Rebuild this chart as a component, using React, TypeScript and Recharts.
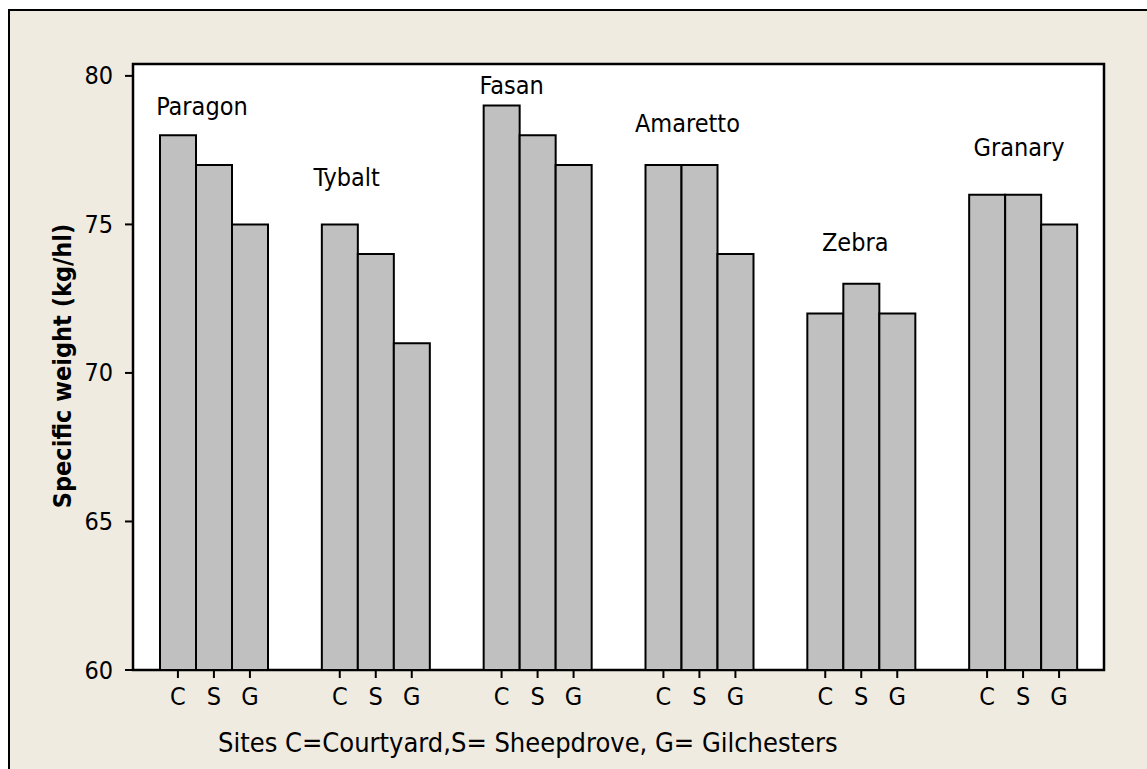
import React from 'react';
import { BarChart, Bar, XAxis, YAxis, CartesianGrid, ReferenceArea, ReferenceDot } from 'recharts';

// wheat varieties, one group each
const varieties = ['Paragon', 'Tybalt', 'Fasan', 'Amaretto', 'Zebra', 'Granary'];
// specific weight (kg/hl) per site
const courtyard = [78, 75, 79, 77, 72, 76];
const sheepdrove = [77, 74, 78, 77, 73, 76];
const gilchesters = [75, 71, 77, 74, 72, 75];
// height (kg/hl) at which each variety name sits
const nameLevels = [78.7, 76.3, 79.4, 78.1, 74.1, 77.3];
const siteLetters = ['C', 'S', 'G'];
const yTicks = [60, 65, 70, 75, 80];

const data = varieties.map((name, i) => ({
  name,
  C: courtyard[i],
  S: sheepdrove[i],
  G: gilchesters[i],
  level: nameLevels[i],
}));

// horizontal nudge of each variety name from its group centre (px)
const nameNudge = [-12, -29, -26, -12, -6, -4];

const FONT = '"DejaVu Sans Condensed", "DejaVu Sans", sans-serif';
const BAR_W = 36;

const SiteTick = (props: any) => {
  const { x, y } = props;
  return (
    <g>
      {siteLetters.map((s, k) => {
        const cx = x + (k - 1) * BAR_W;
        return (
          <g key={s}>
            <line x1={cx} x2={cx} y1={y - 8} y2={y} stroke="#000" strokeWidth={2} />
            <text x={cx} y={y + 27} textAnchor="middle" fontSize={25} fontFamily={FONT} fill="#000">
              {s}
            </text>
          </g>
        );
      })}
    </g>
  );
};

const WeightTick = (props: any) => {
  const { x, y, payload } = props;
  return (
    <text
      x={x}
      y={y}
      textAnchor="end"
      dominantBaseline="central"
      fontSize={25}
      fontFamily={FONT}
      fill="#000"
    >
      {payload.value}
    </text>
  );
};

const App: React.FC = () => {
  return (
    <div
      style={{
        position: 'absolute',
        left: 8,
        top: 9,
        width: 1139,
        height: 760,
        boxSizing: 'border-box',
        background: '#EFEBE1',
        borderLeft: '2px solid #000',
        borderTop: '2px solid #000',
      }}
    >
      <BarChart
        width={1137}
        height={758}
        data={data}
        margin={{ top: 53, right: 43, left: 0, bottom: 39 }}
        barGap={0}
        barSize={BAR_W}
      >
        <CartesianGrid horizontal={false} vertical={false} fill="#fff" />
        <XAxis
          dataKey="name"
          axisLine={false}
          tickLine={false}
          tickSize={8}
          tickMargin={0}
          height={60}
          interval={0}
          tick={<SiteTick />}
        />
        <YAxis
          domain={[60, 80.4]}
          ticks={yTicks}
          width={123}
          axisLine={false}
          tickSize={8}
          tickMargin={12}
          tickLine={{ stroke: '#000', strokeWidth: 2 }}
          tick={<WeightTick />}
        />
        <Bar dataKey="C" fill="#C0C0C0" stroke="#000" strokeWidth={2} isAnimationActive={false} />
        <Bar dataKey="S" fill="#C0C0C0" stroke="#000" strokeWidth={2} isAnimationActive={false} />
        <Bar dataKey="G" fill="#C0C0C0" stroke="#000" strokeWidth={2} isAnimationActive={false} />
        <ReferenceArea y1={60} y2={80.4} fill="none" stroke="#000" strokeWidth={2.5} ifOverflow="visible" />
        {data.map((d, i) => (
          <ReferenceDot
            key={d.name}
            x={d.name}
            y={d.level}
            r={0}
            ifOverflow="visible"
            shape={(p: any) => (
              <text
                x={p.cx + nameNudge[i]}
                y={p.cy}
                textAnchor="middle"
                fontSize={25}
                fontFamily={FONT}
                fill="#000"
              >
                {d.name}
              </text>
            )}
          />
        ))}
        <text
          x={52}
          y={355}
          transform="rotate(-90 52 355)"
          textAnchor="middle"
          dominantBaseline="central"
          fontSize={25}
          fontWeight="bold"
          fontFamily={FONT}
          fill="#000"
        >
          Specific weight (kg/hl)
        </text>
        <text x={208} y={741} fontSize={27} fontFamily={FONT} fill="#000">
          Sites C=Courtyard,S= Sheepdrove, G= Gilchesters
        </text>
      </BarChart>
    </div>
  );
};

export default App;
